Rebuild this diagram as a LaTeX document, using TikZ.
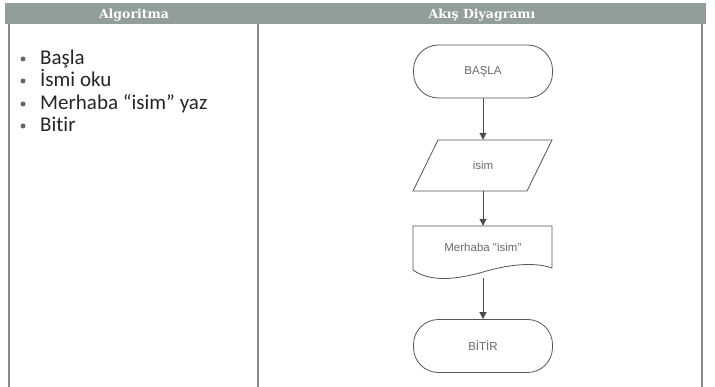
\documentclass[tikz,border=0pt]{standalone}
\usepackage{fontspec}
\setmainfont{Carlito}[Ligatures=NoCommon]
\newfontfamily\hdfont{DejaVu Serif}
\newfontfamily\fcfont{Liberation Sans}
\usetikzlibrary{arrows.meta}
\definecolor{hdbg}{HTML}{929F98}
\definecolor{rule}{HTML}{8A8A8A}
\definecolor{fcline}{HTML}{555555}
\definecolor{fctext}{HTML}{6A6A6A}
\definecolor{bodytext}{HTML}{262626}
\tikzset{
  hdtext/.style={text=white, font=\hdfont\bfseries\fontsize{12.5}{14}\selectfont, anchor=base, inner sep=0pt},
  itemtext/.style={text=bodytext, font=\fontsize{21}{24}\selectfont, anchor=base west, inner sep=0pt},
  bulletdot/.style={circle, fill=fcline!90, inner sep=0pt, minimum size=5pt},
  terminal/.style={draw=fcline, line width=0.8pt, rectangle, rounded corners=25pt, minimum width=139pt, minimum height=53pt, text=fctext, font=\fcfont\fontsize{11.5}{13}\selectfont},
  ghost/.style={draw=none, text=fctext, font=\fcfont\fontsize{11.5}{13}\selectfont, inner sep=0pt},
  shapeline/.style={draw=fcline, line width=0.8pt},
  flowarrow/.style={draw=fcline!90!black, line width=0.9pt, -{Triangle[length=7pt,width=7pt]}},
  border/.style={draw=rule, line width=1.4pt}
}
\begin{document}
\begin{tikzpicture}[x=1pt,y=-1pt]
\useasboundingbox (0,0) rectangle (715,387);
\fill[white] (0,0) rectangle (715,387);
% header band
\fill[hdbg] (5,3) rectangle (706,24);
\node[hdtext] (hA) at (134,19) {Algoritma};
\node[hdtext] (hB) at (482,19) {Akış Diyagramı};
% borders
\draw[border] (9,24) -- (9,387);
\draw[border] (258,24) -- (258,387);
\draw[border] (702,24) -- (702,387);
% list
\node[bulletdot] (b1) at (23,59) {};
\node[bulletdot] (b2) at (23,81) {};
\node[bulletdot] (b3) at (23,104) {};
\node[bulletdot] (b4) at (23,126) {};
\node[itemtext] (t1) at (40,65) {Başla};
\node[itemtext] (t2) at (40,87) {İsmi oku};
\node[itemtext] (t3) at (40,110) {Merhaba “isim” yaz};
\node[itemtext] (t4) at (40,132) {Bitir};
% flowchart
\node[terminal] (start) at (483,71.5) {BAŞLA};
\node[ghost, minimum width=139pt, minimum height=51pt] (par) at (483,165.5) {isim};
\draw[shapeline] (438,140) -- (552,140) -- (527,191) -- (413,191) -- cycle;
\node[ghost, minimum width=139pt, minimum height=52pt] (doc) at (483,252) {};
\node[ghost] (doctext) at (483,247) {Merhaba "isim"};
\draw[shapeline] (413,270) -- (413,226) -- (552,226) -- (552,268)
  .. controls (535,262) and (510,264) .. (483,272)
  .. controls (455,280) and (430,282) .. (413,270);
\node[terminal] (end) at (483,346) {BİTİR};
\draw[flowarrow] (start.south) -- (par.north);
\draw[flowarrow] (par.south) -- (doc.north);
\draw[flowarrow] (doc.south) -- (end.north);
\end{tikzpicture}
\end{document}
